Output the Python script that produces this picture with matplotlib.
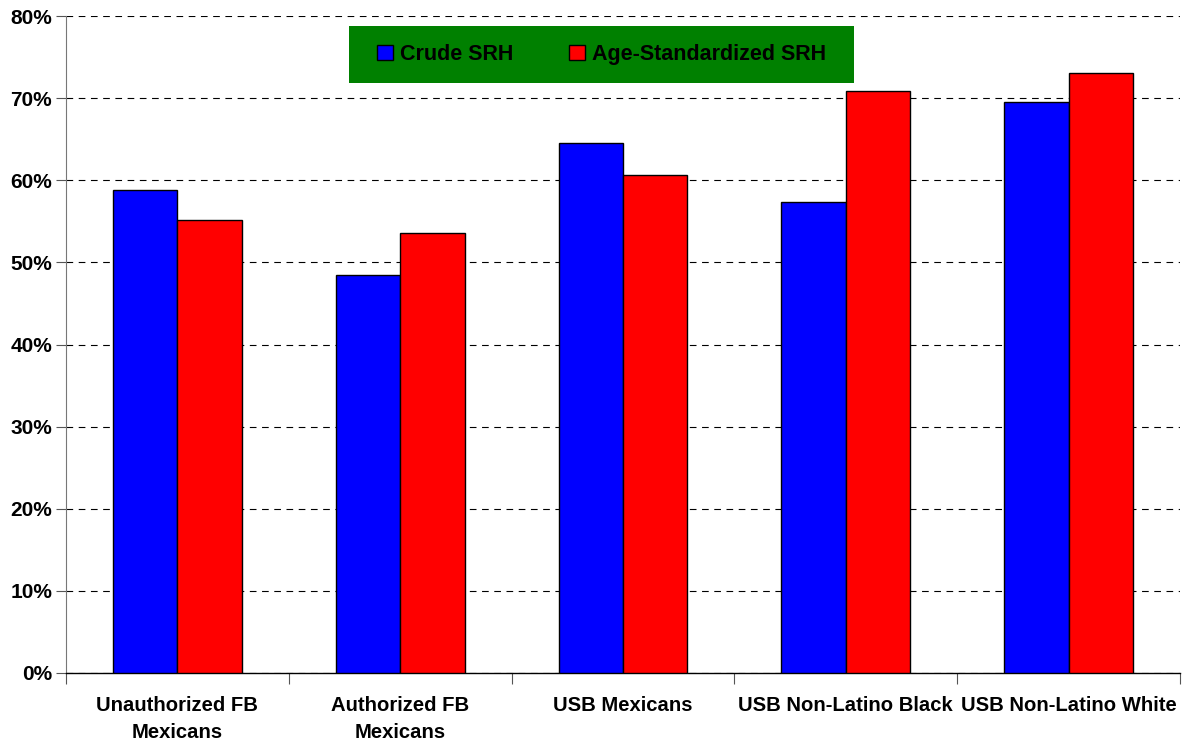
import numpy as np
import matplotlib.pyplot as plt
from matplotlib.patches import Rectangle
from matplotlib.ticker import FuncFormatter

plt.rcParams['font.family'] = ['Liberation Sans', 'DejaVu Sans']
plt.rcParams['font.weight'] = 'bold'

# Self-rated health by group
groups = ["Unauthorized FB\nMexicans", "Authorized FB\nMexicans", "USB Mexicans",
          "USB Non-Latino Black", "USB Non-Latino White"]
crude = [58.8, 48.5, 64.5, 57.3, 69.5]
age_std = [55.1, 53.6, 60.7, 70.9, 73.1]
series_names = ["Crude SRH", "Age-Standardized SRH"]

fig = plt.figure(figsize=(11.85, 7.42), dpi=100)
ax = fig.add_axes([66 / 1185, 1 - 673 / 742, 1114 / 1185, 657 / 742])

x = np.arange(len(groups))
w = 0.289
ax.bar(x - w / 2, crude, w, color='#0000ff', edgecolor='black', linewidth=1.0,
       label=series_names[0], zorder=3)
ax.bar(x + w / 2, age_std, w, color='#ff0000', edgecolor='black', linewidth=1.0,
       label=series_names[1], zorder=3)

ax.set_xlim(-0.5, len(groups) - 0.5)
ax.set_ylim(0, 80)
ax.set_yticks(np.arange(0, 81, 10))
ax.yaxis.set_major_formatter(FuncFormatter(lambda v, p: f"{v:.0f}%"))
ax.grid(axis='y', color='black', linestyle=(0, (6, 5)), linewidth=0.8, zorder=1)

# category labels centred under each group, ticks between groups
ax.set_xticks(np.arange(-0.5, len(groups)))
ax.set_xticklabels([])
ax.tick_params(axis='x', direction='out', length=8, width=0.8, color='#555555')
for xi, name in zip(x, groups):
    ax.text(xi, -2.8, name, ha='center', va='top', fontsize=14.6,
            fontweight='bold', linespacing=1.55)

ax.tick_params(axis='y', direction='out', length=7, width=0.8, pad=3,
               labelsize=15, color='#555555')
for lbl in ax.get_yticklabels():
    lbl.set_fontweight('bold')

ax.spines['top'].set_visible(False)
ax.spines['right'].set_visible(False)
ax.spines['left'].set_color('#777777')
ax.spines['bottom'].set_color('black')
ax.spines['bottom'].set_linewidth(1.0)

# green legend panel
ax.add_patch(Rectangle((0.254, 0.898), 0.4533, 0.0868, transform=ax.transAxes,
                       facecolor='#008000', edgecolor='none', zorder=4))
leg = ax.legend(loc='center', bbox_to_anchor=(0.4807, 0.9414), ncol=2,
                frameon=False, fontsize=15.5, handlelength=0.75, handleheight=0.75,
                handletextpad=0.3, columnspacing=2.6, borderpad=0)
leg.set_zorder(5)

fig.savefig('out.png', dpi=100)
